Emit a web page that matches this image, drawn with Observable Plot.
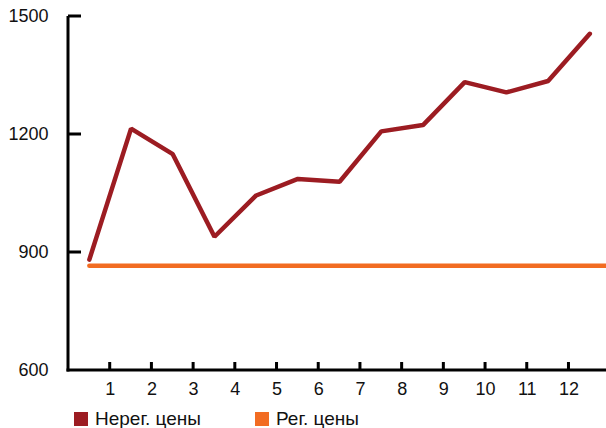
<!DOCTYPE html>
<html><head><meta charset="utf-8">
<script src="https://cdn.jsdelivr.net/npm/d3@7"></script>
<script src="https://cdn.jsdelivr.net/npm/@observablehq/plot@0.6"></script>
<style>
body{margin:0;background:#fff;font-family:"Liberation Sans",Arial,sans-serif;}
#wrap{position:relative;width:606px;height:428px;}
.leg{position:absolute;top:408px;font-size:19px;color:#111;display:flex;align-items:center;}
.sw{display:inline-block;width:14px;height:14px;margin-right:7px;}
</style></head>
<body><div id="wrap"></div>
<script>
const xLabels = [1,2,3,4,5,6,7,8,9,10,11,12];
const yTicks = [600, 900, 1200, 1500];
const unregX = [0.5,1.5,2.5,3.5,4.5,5.5,6.5,7.5,8.5,9.5,10.5,11.5,12.5];
const unregValues = [882,1215,1150,940,1045,1087,1080,1208,1224,1333,1307,1336,1456];
const regX = [0.5,1.5,2.5,3.5,4.5,5.5,6.5,7.5,8.5,9.5,10.5,11.5,12.5,13.5];
const regValues = [866,866,866,866,866,866,866,866,866,866,866,866,866,866];
const seriesNames = ["Нерег. цены", "Рег. цены"];
const colors = ["#9c1c22", "#f26c22"];

const W = 606, H = 400, mL = 68, mR = 0, mT = 16, mB = 30;
const xDom = [0, 12.9], yDom = [600, 1500];
// convert pixel sizes to data units for tick rectangles
const xu = px => px * (xDom[1] - xDom[0]) / (W - mL - mR);
const yu = px => px * (yDom[1] - yDom[0]) / (H - mT - mB);

const unreg = unregX.map((x,i)=>({x, y: unregValues[i]}));
const reg = regX.map((x,i)=>({x, y: regValues[i]}));

const chart = Plot.plot({
  width: W, height: H,
  marginLeft: mL, marginRight: mR, marginTop: mT, marginBottom: mB,
  style: {fontFamily: '"Liberation Sans", Arial, sans-serif', fontSize: "18px", color: "#111", background: "#fff"},
  x: {domain: xDom},
  y: {domain: yDom},
  marks: [
    Plot.axisY({ticks: yTicks, tickSize: 0, tickPadding: 20, label: null, tickFormat: d => String(d), fontSize: 18}),
    Plot.axisX({ticks: xLabels, tickSize: 0, tickPadding: 12, label: null, tickFormat: d => String(d), fontSize: 18}),
    Plot.rect(yTicks.slice(1), {x1: xDom[0], x2: xDom[0] + xu(13), y1: d => d - yu(1.5), y2: d => d + yu(1.5), fill: "#000"}),
    Plot.rect(xLabels, {x1: d => d - xu(1.5), x2: d => d + xu(1.5), y1: yDom[0], y2: yDom[0] + yu(8), fill: "#000"}),
    Plot.rect([0], {x1: xDom[0] - xu(1.5), x2: xDom[0] + xu(1.5), y1: yDom[0] - yu(1.5), y2: yDom[1], fill: "#000", clip: false}),
    Plot.rect([0], {x1: xDom[0] - xu(1.5), x2: xDom[1], y1: yDom[0] - yu(1.5), y2: yDom[0] + yu(1.5), fill: "#000"}),
    Plot.line(reg, {x: "x", y: "y", stroke: colors[1], strokeWidth: 4.5, strokeLinecap: "round", clip: true}),
    Plot.line(unreg, {x: "x", y: "y", stroke: colors[0], strokeWidth: 4.5, strokeLinecap: "round", strokeLinejoin: "miter"})
  ]
});
const wrap = document.getElementById("wrap");
wrap.appendChild(chart);
const legX = [74, 255];
seriesNames.forEach((n,i)=>{
  const d = document.createElement("div");
  d.className = "leg";
  d.style.left = legX[i] + "px";
  d.innerHTML = `<span class="sw" style="background:${colors[i]}"></span><span>${n}</span>`;
  wrap.appendChild(d);
});
</script></body></html>
